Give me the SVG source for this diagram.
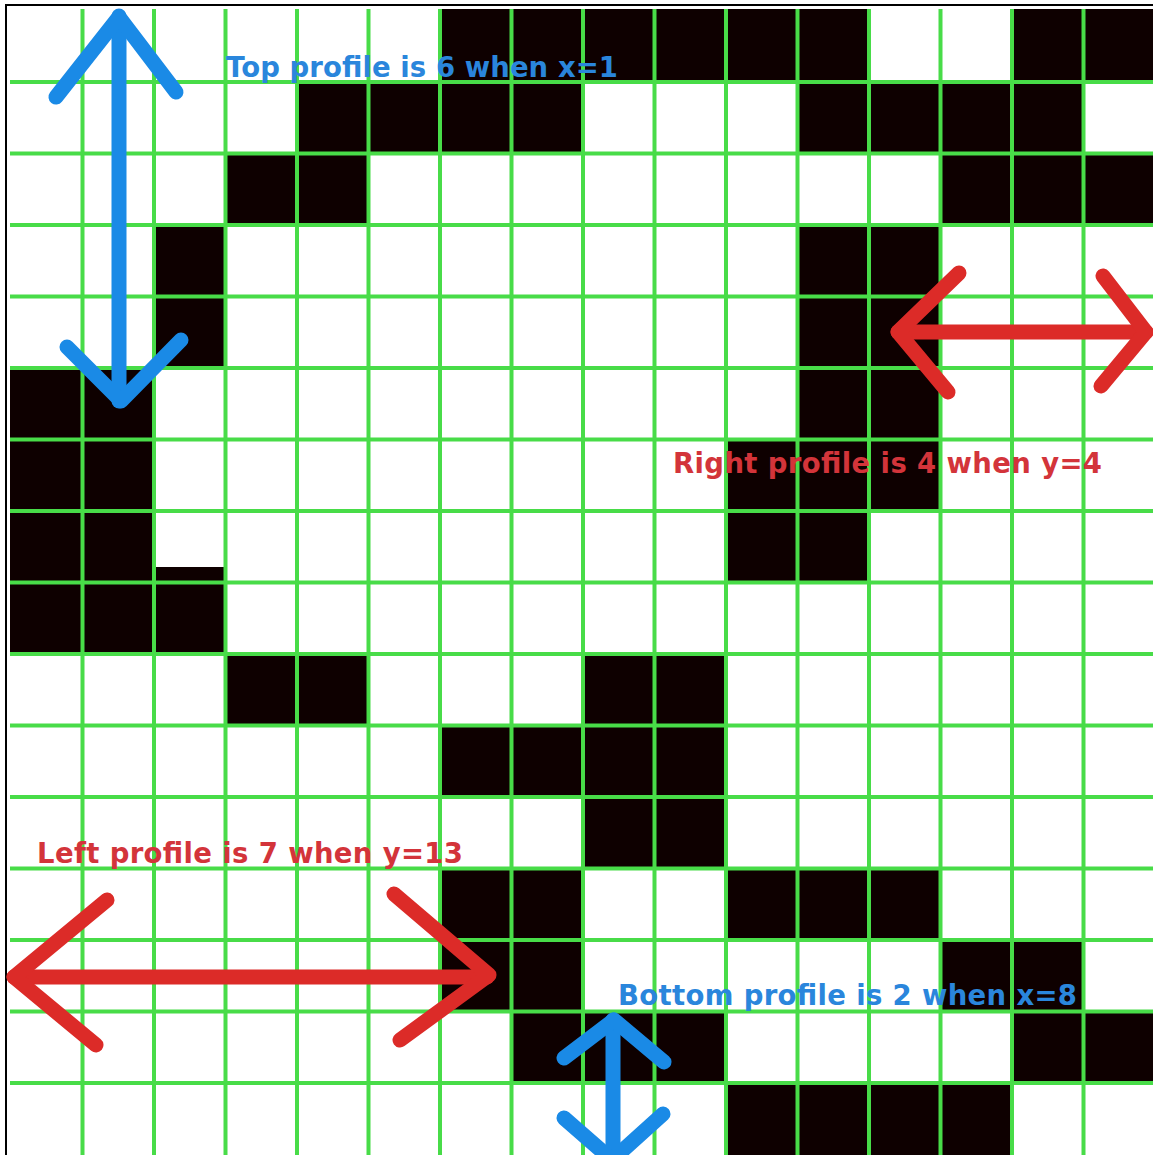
<svg xmlns="http://www.w3.org/2000/svg" width="1153" height="1155" viewBox="0 0 1153 1155">
<style>
.cell{fill:#0e0000}
.grid line{stroke:#48dc48;stroke-width:4}
.arr{fill:none;stroke-width:15;stroke-linecap:round;stroke-linejoin:round}
.blue{stroke:#1a8ae6}
.red{stroke:#dc2b28}
.lbl{font-family:"DejaVu Sans",sans-serif;font-weight:bold;font-size:27.5px}
</style>
<rect x="0" y="0" width="1153" height="1155" fill="#ffffff"/>
<path d="M6,1155 V5 H1153" fill="none" stroke="#000" stroke-width="2"/>
<g id="cells">
<rect class="cell" x="440" y="9" width="429" height="73"/>
<rect class="cell" x="1012" y="9" width="141" height="73"/>
<rect class="cell" x="297" y="82" width="286" height="71.5"/>
<rect class="cell" x="797.5" y="82" width="286" height="71.5"/>
<rect class="cell" x="225.5" y="153.5" width="143" height="71.5"/>
<rect class="cell" x="940.5" y="153.5" width="212.5" height="71.5"/>
<rect class="cell" x="154" y="225" width="71.5" height="143"/>
<rect class="cell" x="797.5" y="225" width="143" height="286"/>
<rect class="cell" x="10" y="368" width="144" height="286"/>
<rect class="cell" x="154" y="582.5" width="71.5" height="71.5"/>
<rect class="cell" x="154" y="567" width="71.5" height="16"/>
<rect class="cell" x="726" y="439.5" width="71.5" height="143"/>
<rect class="cell" x="797.5" y="511" width="71.5" height="71.5"/>
<rect class="cell" x="225.5" y="654" width="143" height="71.5"/>
<rect class="cell" x="583" y="654" width="143" height="214.5"/>
<rect class="cell" x="440" y="725.5" width="143" height="71.5"/>
<rect class="cell" x="440" y="868.5" width="143" height="143"/>
<rect class="cell" x="726" y="868.5" width="214.5" height="71.5"/>
<rect class="cell" x="940.5" y="940" width="143" height="71.5"/>
<rect class="cell" x="511.5" y="1011.5" width="214.5" height="71.5"/>
<rect class="cell" x="1012" y="1011.5" width="141" height="71.5"/>
<rect class="cell" x="726" y="1083" width="286" height="72"/>
</g>
<g id="grid" class="grid">
<line x1="82.5" y1="9" x2="82.5" y2="1155"/>
<line x1="154" y1="9" x2="154" y2="1155"/>
<line x1="225.5" y1="9" x2="225.5" y2="1155"/>
<line x1="297" y1="9" x2="297" y2="1155"/>
<line x1="368.5" y1="9" x2="368.5" y2="1155"/>
<line x1="440" y1="9" x2="440" y2="1155"/>
<line x1="511.5" y1="9" x2="511.5" y2="1155"/>
<line x1="583" y1="9" x2="583" y2="1155"/>
<line x1="654.5" y1="9" x2="654.5" y2="1155"/>
<line x1="726" y1="9" x2="726" y2="1155"/>
<line x1="797.5" y1="9" x2="797.5" y2="1155"/>
<line x1="869" y1="9" x2="869" y2="1155"/>
<line x1="940.5" y1="9" x2="940.5" y2="1155"/>
<line x1="1012" y1="9" x2="1012" y2="1155"/>
<line x1="1083.5" y1="9" x2="1083.5" y2="1155"/>
<line x1="10" y1="82" x2="1153" y2="82"/>
<line x1="10" y1="153.5" x2="1153" y2="153.5"/>
<line x1="10" y1="225" x2="1153" y2="225"/>
<line x1="10" y1="296.5" x2="1153" y2="296.5"/>
<line x1="10" y1="368" x2="1153" y2="368"/>
<line x1="10" y1="439.5" x2="1153" y2="439.5"/>
<line x1="10" y1="511" x2="1153" y2="511"/>
<line x1="10" y1="582.5" x2="1153" y2="582.5"/>
<line x1="10" y1="654" x2="1153" y2="654"/>
<line x1="10" y1="725.5" x2="1153" y2="725.5"/>
<line x1="10" y1="797" x2="1153" y2="797"/>
<line x1="10" y1="868.5" x2="1153" y2="868.5"/>
<line x1="10" y1="940" x2="1153" y2="940"/>
<line x1="10" y1="1011.5" x2="1153" y2="1011.5"/>
<line x1="10" y1="1083" x2="1153" y2="1083"/>
</g>
<g id="connectors">
<g id="top-arrow" class="arr blue">
<path d="M119,16 V401"/>
<path d="M56,97 L119,17 L176,92"/>
<path d="M67,347 L121,401 L181,340"/>
</g>
<g id="right-arrow" class="arr red">
<path d="M898,332 H1146"/>
<path d="M959,273 L898,332 L948,392"/>
<path d="M1103,276 L1146,332 L1101,386"/>
</g>
<g id="left-arrow" class="arr red">
<path d="M14,977 H487"/>
<path d="M107,900 L14,977 L96,1045"/>
<path d="M394,894 L489,975 L400,1040"/>
</g>
<g id="bottom-arrow" class="arr blue">
<path d="M613,1020 V1158"/>
<path d="M564,1058 L614,1020 L664,1062"/>
<path d="M564,1118 L612,1160 L663,1114"/>
</g>
</g>
<g id="labels" class="lbl">
<text x="226" y="77" fill="#2a86dc" textLength="392" lengthAdjust="spacing">Top profile is 6 when x=1</text>
<text x="673" y="473" fill="#d3343a" textLength="429" lengthAdjust="spacing">Right profile is 4 when y=4</text>
<text x="37" y="863" fill="#d3343a" textLength="426" lengthAdjust="spacing">Left profile is 7 when y=13</text>
<text x="618" y="1005" fill="#2a86dc" textLength="459" lengthAdjust="spacing">Bottom profile is 2 when x=8</text>
</g>
</svg>
